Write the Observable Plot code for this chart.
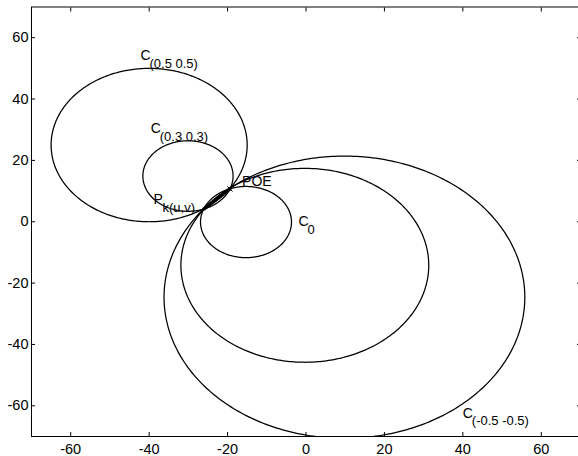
<!DOCTYPE html>
<html><head><meta charset="utf-8">
<script src="https://cdn.jsdelivr.net/npm/d3@7"></script>
<script src="https://cdn.jsdelivr.net/npm/@observablehq/plot@0.6"></script>
<style>body{margin:0;background:#fff} svg{display:block}</style>
</head><body><div id="chart"></div>
<script>
// Circles of the pencil through P_k(u,v) and POE (data units)
const circleNames = ["C0", "C(0.3 0.3)", "C(0.5 0.5)", "C(-0.3 -0.3)", "C(-0.5 -0.5)"];
const circleCx = [-15.3, -30.1, -40.0, -0.3, 9.8];
const circleCy = [-0.1, 14.9, 25.0, -14.2, -24.6];
const circleR  = [11.6, 11.5, 25.0, 31.6, 46.0];

// the two common points: P_k(u,v) and POE
const pointX = [-26.0, -19.4];
const pointY = [4.2, 10.7];

const xTicks = [-60, -40, -20, 0, 20, 40, 60];
const yTicks = [-60, -40, -20, 0, 20, 40, 60];

const labelMain = ["C", "C", "POE", "P", "C", "C"];
const labelSub  = ["(0.5 0.5)", "(0.3 0.3)", "", "k(u,v)", "0", "(-0.5 -0.5)"];
const labelX    = [-42.2, -39.6, -16.3, -38.9, -1.9, 40.0];
const labelY    = [54.2, 30.4, 13.2, 7.25, 0.1, -62.4];

// build outline points of each circle
const pts = [];
circleNames.forEach((name, i) => {
  for (let a = 0; a < 360; a += 1) {
    const t = a * Math.PI / 180;
    pts.push({name, x: circleCx[i] + circleR[i] * Math.cos(t), y: circleCy[i] + circleR[i] * Math.sin(t)});
  }
});
const labels = labelMain.map((m, i) => ({main: m, sub: labelSub[i], x: labelX[i], y: labelY[i]}));
const seg = [{x1: pointX[0], y1: pointY[0], x2: pointX[1], y2: pointY[1]}];
const poe = [{x: pointX[1], y: pointY[1]}];

const fmt = d => String(d);
const chart = Plot.plot({
  width: 578, height: 456,
  marginLeft: 31, marginRight: -2, marginTop: 6.5, marginBottom: 20,
  x: {domain: [-70, 70]},
  y: {domain: [-70, 70]},
  style: {fontFamily: "'Liberation Sans', Arial, Helvetica, sans-serif", fontSize: "14.5px", background: "white", color: "black"},
  marks: [
    Plot.line(pts, {x: "x", y: "y", z: "name", stroke: "black", strokeWidth: 1.25, curve: "linear-closed", clip: true}),
    Plot.link(seg, {x1: "x1", y1: "y1", x2: "x2", y2: "y2", stroke: "black", strokeWidth: 3.5, strokeLinecap: "round"}),
    Plot.dot(poe, {x: "x", y: "y", symbol: "times", r: 2.5, stroke: "black", strokeWidth: 1}),
    Plot.text(labels, {x: "x", y: "y", text: "main", textAnchor: "start", fontSize: 14, fill: "black"}),
    Plot.text(labels, {x: "x", y: "y", text: "sub", textAnchor: "start", dx: 9, dy: 8, fontSize: 13, fill: "black"}),
    Plot.frame({stroke: "black"}),
    Plot.axisX(xTicks, {anchor: "bottom", tickSize: -4, tickPadding: 11, tickFormat: fmt, label: null}),
    Plot.axisX(xTicks, {anchor: "top", tickSize: -4, tickFormat: () => "", label: null}),
    Plot.axisY(yTicks, {anchor: "left", tickSize: -4, tickPadding: 7, tickFormat: fmt, label: null}),
    Plot.axisY(yTicks, {anchor: "right", tickSize: -4, tickFormat: () => "", label: null})
  ]
});
document.getElementById("chart").appendChild(chart);
</script>
</body></html>
